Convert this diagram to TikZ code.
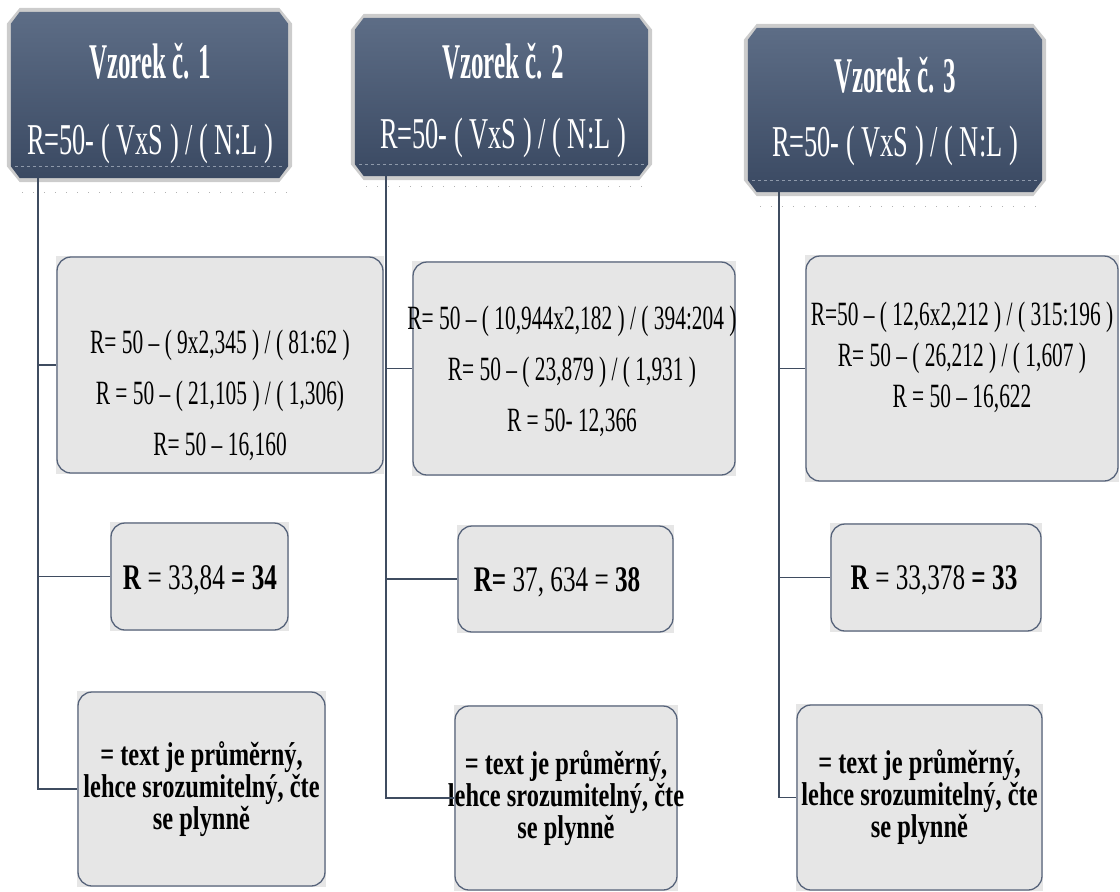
\documentclass[tikz,border=0pt]{standalone}
\usepackage{fontspec}
\setmainfont{Liberation Serif}
\newfontfamily\hdtitle[FakeStretch=0.5]{Liberation Serif}
\newfontfamily\hdform[FakeStretch=0.6]{Liberation Serif}
\newfontfamily\bodyf[FakeStretch=0.63]{Liberation Serif}
\newfontfamily\resf[FakeStretch=0.7]{Liberation Serif}
\newfontfamily\botf[FakeStretch=0.74]{Liberation Serif}
\newcommand\tightlines{\lineskiplimit-100pt\lineskip0pt\relax}
\usetikzlibrary{backgrounds}
\definecolor{hdtop}{HTML}{5D6D86}
\definecolor{hdbot}{HTML}{3A4962}
\definecolor{ln}{HTML}{3F4C60}
\definecolor{boxfill}{HTML}{E6E6E6}
\definecolor{boxline}{HTML}{56637A}
% chamfered outline round node #1, pushed outwards by #2
\newcommand\chamfpath[2]{([shift={(9pt,#2)}]#1.north west) -- ([shift={(-9pt,#2)}]#1.north east)
  -- ([shift={(#2,-12pt)}]#1.north east) -- ([shift={(#2,12pt)}]#1.south east)
  -- ([shift={(-9pt,-#2)}]#1.south east) -- ([shift={(9pt,-#2)}]#1.south west)
  -- ([shift={(-#2,12pt)}]#1.south west) -- ([shift={(-#2,-12pt)}]#1.north west) -- cycle}
\newcommand\headerbox[1]{%
  \fill[gray!40, yshift=-3pt] \chamfpath{#1}{4pt};
  \shade[top color=hdtop, bottom color=hdbot] \chamfpath{#1}{0pt};
  \draw[hdtop!70!white, line width=0.6pt, dashed]
    ([shift={(4pt,12pt)}]#1.south west) -- ([shift={(-4pt,12pt)}]#1.south east);}
\begin{document}
\begin{tikzpicture}[x=1pt,y=-1pt,
  hdr/.style={rectangle, draw=none, inner sep=0pt},
  htitle/.style={text=white, anchor=base, inner sep=0pt,
    font=\hdtitle\bfseries\fontsize{50}{54}\selectfont},
  hform/.style={text=white, anchor=base, inner sep=0pt,
    font=\hdform\fontsize{44}{48}\selectfont},
  gbox/.style={draw=boxline, line width=1.3pt, fill=boxfill,
    rounded corners=14pt, inner sep=0pt},
  ftext/.style={align=center, inner sep=0pt},
  rtext/.style={anchor=base, inner sep=0pt,
    font=\resf\fontsize{36}{40}\selectfont},
  btext/.style={align=center, inner sep=0pt,
    font=\botf\bfseries\fontsize{33}{32}\selectfont\tightlines},
  conn/.style={draw=ln, line width=1.3pt},
  dots/.style={draw=gray!60, line width=1pt, dash pattern=on 1pt off 10pt}
]
\useasboundingbox (0,0) rectangle (1120,892);

% ---------- headers ----------
\node[hdr, minimum width=277pt, minimum height=166pt] (h1) at (149.5,95) {};
\node[hdr, minimum width=293pt, minimum height=158pt] (h2) at (501.5,97) {};
\node[hdr, minimum width=294pt, minimum height=164pt] (h3) at (895,110) {};
\headerbox{h1}
\headerbox{h2}
\headerbox{h3}
\draw[dots] (22,192) -- (288,192);
\draw[dots] (366,186) -- (648,186);
\draw[dots] (760,206) -- (1042,206);

\node[htitle] (h1t) at (150,78) {Vzorek č. 1};
\node[hform]  (h1f) at (150,154) {R=50- ( VxS ) / ( N:L )};
\node[htitle] (h2t) at (503,78) {Vzorek č. 2};
\node[hform]  (h2f) at (503,148) {R=50- ( VxS ) / ( N:L )};
\node[htitle] (h3t) at (895,92) {Vzorek č. 3};
\node[hform]  (h3f) at (895,156) {R=50- ( VxS ) / ( N:L )};

% ---------- formula boxes ----------
\node[gbox, minimum width=326pt, minimum height=216pt] (b1a) at (220,365) {};
\node[gbox, minimum width=322pt, minimum height=213pt] (b2a) at (574,368.5) {};
\node[gbox, minimum width=312pt, minimum height=225pt] (b3a) at (962,368.5) {};

\node[ftext, font=\bodyf\fontsize{34}{51}\selectfont] (t1a) at (220,395)
  {R= 50 – ( 9x2,345 ) / ( 81:62 )\\ R = 50 – ( 21,105 ) / ( 1,306)\\ R= 50 – 16,160};
\node[ftext, font=\bodyf\fontsize{34}{51}\selectfont] (t2a) at (572,371)
  {R= 50 – ( 10,944x2,182 ) / ( 394:204 )\\ R= 50 – ( 23,879 ) / ( 1,931 )\\ R = 50- 12,366};
\node[ftext, font=\bodyf\fontsize{34}{41}\selectfont] (t3a) at (962,357)
  {R=50 – ( 12,6x2,212 ) / ( 315:196 )\\ R= 50 – ( 26,212 ) / ( 1,607 )\\ R = 50 – 16,622};

% ---------- result boxes ----------
\node[gbox, minimum width=177pt, minimum height=107pt] (b1b) at (199.5,576.5) {};
\node[gbox, minimum width=215pt, minimum height=106pt] (b2b) at (565.5,579) {};
\node[gbox, minimum width=210pt, minimum height=107pt] (b3b) at (936,577.5) {};

\node[rtext] (t1b) at (200,589) {\textbf{R} = 33,84 \textbf{= 34}};
\node[rtext] (t2b) at (557,591) {\textbf{R=} 37, 634 = \textbf{38}};
\node[rtext] (t3b) at (934,589.5) {\textbf{R} = 33,378 \textbf{= 33}};

% ---------- verdict boxes ----------
\node[gbox, minimum width=247pt, minimum height=194pt] (b1c) at (201.5,789) {};
\node[gbox, minimum width=222pt, minimum height=184pt] (b2c) at (566,798) {};
\node[gbox, minimum width=245pt, minimum height=185pt] (b3c) at (919.5,797.5) {};

\node[btext] (t1c) at (201.5,789) {= text je průměrný,\\ lehce srozumitelný, čte\\ se plynně};
\node[btext] (t2c) at (566,798) {= text je průměrný,\\ lehce srozumitelný, čte\\ se plynně};
\node[btext] (t3c) at (919.5,797.5) {= text je průměrný,\\ lehce srozumitelný, čte\\ se plynně};

% square grey corners behind the rounded frames
\begin{scope}[on background layer]
  \foreach \b in {b1a,b2a,b3a,b1b,b2b,b3b,b1c,b2c,b3c}
    \fill[boxfill] (\b.south west) rectangle (\b.north east);
\end{scope}

% ---------- connectors ----------
\coordinate (j1) at (38,0);
\coordinate (j2) at (386,0);
\coordinate (j3) at (779,0);

\draw[conn] (h1.south -| j1) |- (b1c.west);
\draw[conn] (b1a.west -| j1) -- (b1a.west);
\draw[conn] (b1b.west -| j1) -- (b1b.west);

\draw[conn] (h2.south -| j2) |- (b2c.west);
\draw[conn] (b2a.west -| j2) -- (b2a.west);
\draw[conn] (b2b.west -| j2) -- (b2b.west);

\draw[conn] (h3.south -| j3) |- (b3c.west);
\draw[conn] (b3a.west -| j3) -- (b3a.west);
\draw[conn] (b3b.west -| j3) -- (b3b.west);
\end{tikzpicture}
\end{document}
